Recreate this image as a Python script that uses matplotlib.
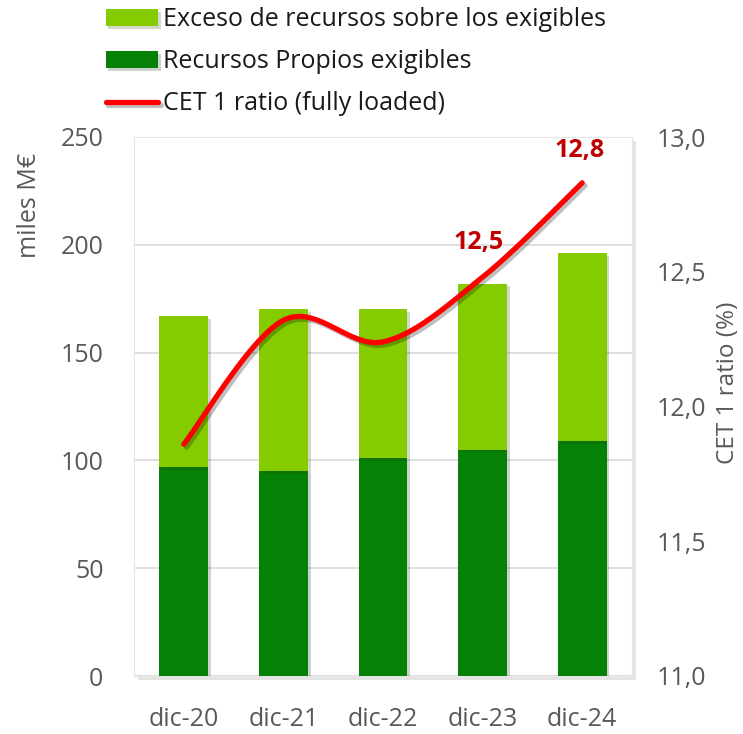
import numpy as np
import matplotlib
matplotlib.use("Agg")
import matplotlib.pyplot as plt
from matplotlib import patheffects as pe

categories = ["dic-20", "dic-21", "dic-22", "dic-23", "dic-24"]
recursos_exigibles = [97, 95, 101, 105, 109]
exceso = [70, 75, 69, 77, 87]
cet1 = [11.86, 12.32, 12.24, 12.48, 12.83]
cet1_labels = {3: "12,5", 4: "12,8"}
left_ticks = [0, 50, 100, 150, 200, 250]
right_ticks = [11.0, 11.5, 12.0, 12.5, 13.0]

FONT = "Open Sans"
plt.rcParams["font.family"] = [FONT, "DejaVu Sans"]
GRAY = "#595959"
LIGHT = "#84CC00"
DARK = "#058205"
RED = "#FF0000"

fig = plt.figure(figsize=(7.43, 7.34), dpi=100)
ax = fig.add_axes([134/743, 1-676/734, (632-134)/743, (676-137)/734])
ax2 = ax.twinx()

x = np.arange(len(categories))
shadow = [pe.SimplePatchShadow(offset=(2, -2), alpha=0.2), pe.Normal()]
b1 = ax.bar(x, recursos_exigibles, width=0.49, color=DARK, zorder=3,
            label="Recursos Propios exigibles")
b2 = ax.bar(x, exceso, bottom=recursos_exigibles, width=0.49, color=LIGHT, zorder=3,
            label="Exceso de recursos sobre los exigibles")
for r in list(b1) + list(b2):
    r.set_path_effects(shadow)

ax.set_xlim(-0.5, len(categories) - 0.5)
ax.set_ylim(0, 250)
ax.set_yticks(left_ticks)
ax.set_yticklabels([str(t) for t in left_ticks])
ax.set_xticks(x)
ax.set_xticklabels(categories)
ax.grid(axis="y", color="#D9D9D9", lw=1.2, zorder=0)
ax.set_axisbelow(True)
for s in ax.spines.values():
    s.set_color("#E6E6E6")
for s in ax2.spines.values():
    s.set_visible(False)
ax.tick_params(axis="both", length=0, labelsize=18, labelcolor=GRAY)
ax.tick_params(axis="x", pad=22)
ax.tick_params(axis="y", pad=22)
ax.patch.set_path_effects([pe.SimplePatchShadow(offset=(3, -3), alpha=0.15), pe.Normal()])

# smoothed line (Catmull-Rom through the data points)
xs = np.asarray(x, float)
ys = np.asarray(cet1, float)
P = np.column_stack([xs, ys])
Pext = np.vstack([P[0], P, P[-1]])
curve = []
for i in range(len(P) - 1):
    p0, p1, p2, p3 = Pext[i], Pext[i+1], Pext[i+2], Pext[i+3]
    c1 = p1 + (p2 - p0) / 6
    c2 = p2 - (p3 - p1) / 6
    t = np.linspace(0, 1, 40)[:, None]
    seg = (1-t)**3*p1 + 3*(1-t)**2*t*c1 + 3*(1-t)*t**2*c2 + t**3*p2
    curve.append(seg if i == 0 else seg[1:])
curve = np.vstack(curve)
line, = ax2.plot(curve[:, 0], curve[:, 1], color=RED, lw=3.8, solid_capstyle="round",
                 zorder=5, label="CET 1 ratio (fully loaded)",
                 path_effects=[pe.SimpleLineShadow(offset=(2, -2), alpha=0.25), pe.Normal()])
ax2.set_ylim(11.0, 13.0)
ax2.set_yticks(right_ticks)
ax2.set_yticklabels([f"{t:.1f}".replace(".", ",") for t in right_ticks])
ax2.tick_params(axis="y", length=0, labelsize=18, labelcolor=GRAY, pad=18)

offsets = {3: (-3, 16), 4: (-2, 14)}
for i, lab in cet1_labels.items():
    ax2.annotate(lab, (x[i], cet1[i]), xytext=offsets[i], textcoords="offset points",
                 ha="center", va="bottom", fontsize=18, fontweight="bold", color="#C00000")

fig.text(30/743, 1-205/734, "miles M€", rotation=90, ha="center", va="center",
         fontsize=18, color=GRAY)
fig.text(728/743, 1-383/734, "CET 1 ratio (%)", rotation=90, ha="center", va="center",
         fontsize=17.5, color=GRAY)

leg = fig.legend(handles=[b2, b1, line], loc="upper left",
                 bbox_to_anchor=(98/743, 1.0), frameon=False, fontsize=18,
                 handlelength=2.1, handleheight=0.65, handletextpad=0.2,
                 labelspacing=0.68, borderaxespad=0.1, borderpad=0.2)
for t in leg.get_texts():
    t.set_color("#1a1a1a")

fig.savefig("out.png", dpi=100)
